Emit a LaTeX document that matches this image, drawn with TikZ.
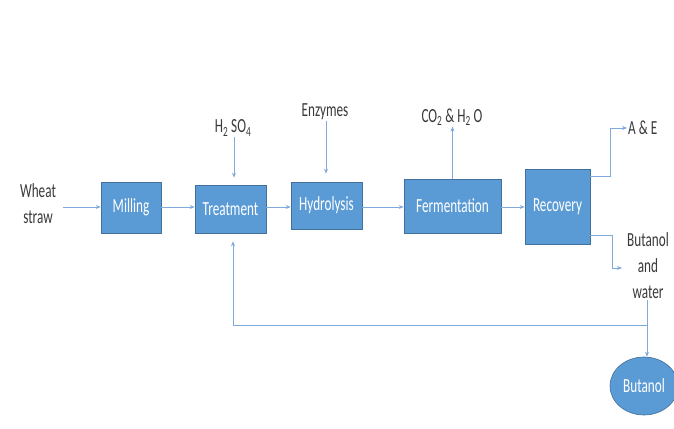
\documentclass[tikz,border=0pt]{standalone}
\usepackage{fontspec}
\setmainfont{Carlito}
\newfontfamily\cfont[FakeStretch=0.66]{Carlito}
\usetikzlibrary{arrows.meta,shapes.geometric}
\definecolor{boxfill}{HTML}{5B9BD5}
\definecolor{boxline}{HTML}{41719C}
\definecolor{arr}{HTML}{7FAADB}
\definecolor{txt}{HTML}{3A3A3A}
\tikzset{
  procbox/.style={draw=boxline, line width=0.6pt, fill=boxfill, inner sep=0pt,
    text=white, font=\cfont\fontsize{20}{22}\selectfont},
  lbl/.style={inner sep=1pt, text=txt, font=\cfont\fontsize{20}{26}\selectfont, align=center},
  flow/.style={draw=arr, line width=0.8pt, -{Stealth[length=5pt,width=4pt]}}
}
\begin{document}
\begin{tikzpicture}[x=1pt,y=-1pt]
\useasboundingbox[fill=white] (0,0) rectangle (674,428);
\node[lbl] (wheat) at (38,204) {Wheat\\straw};
\node[procbox, minimum width=60pt, minimum height=51pt] (mill) at (131,207.5) {Milling};
\node[procbox, minimum width=71pt, minimum height=48pt] (treat) at (230.5,209) {Treatment};
\node[procbox, minimum width=71pt, minimum height=47pt] (hydro) at (326.5,205.5) {Hydrolysis};
\node[procbox, minimum width=97pt, minimum height=54pt] (ferm) at (452.5,206) {Fermentation};
\node[procbox, minimum width=65pt, minimum height=75pt] (reco) at (557.5,206.5) {Recovery};
\node[procbox, ellipse, minimum width=68pt, minimum height=58pt] (buta) at (644,386) {Butanol};
\node[lbl] (h2so4) at (233,128) {H\textsubscript{2} SO\textsubscript{4}};
\node[lbl] (enz) at (325,112) {Enzymes};
\node[lbl] (co2) at (452,117) {CO\textsubscript{2} \& H\textsubscript{2} O};
\node[lbl, anchor=west] (ae) at (627,128) {A \& E};
\node[lbl] (bw) at (648,266) {Butanol\\and\\water};
\coordinate (j) at (647,325);

\draw[flow] (63,207) -- (mill.west |- 0,207);
\draw[flow] (mill.east |- 0,207) -- (treat.west |- 0,207);
\draw[flow] (treat.east |- 0,207) -- (hydro.west |- 0,207);
\draw[flow] (hydro.east |- 0,207) -- (ferm.west |- 0,207);
\draw[flow] (ferm.east |- 0,207) -- (reco.west |- 0,207);
\draw[flow] (h2so4.south -| 234,0) -- ([yshift=7pt]treat.north -| 234,0);
\draw[flow] (enz.south -| 326,0) -- ([yshift=8pt]hydro.north -| 326,0);
\draw[flow] (ferm.north) -- (co2.south -| ferm.north);
\draw[flow] (reco.east |- 0,176) -- (610,176) -- (610,128) -- (ae.west);
\draw[flow] (reco.east |- 0,235) -- (612,235) -- (612,268) -- (622,268);
\draw[flow] (bw.south -| j) -- (buta.north -| j);
\draw[flow] (j) -- (233,325) -- ([yshift=-8pt]treat.south -| 233,0);
\end{tikzpicture}
\end{document}
